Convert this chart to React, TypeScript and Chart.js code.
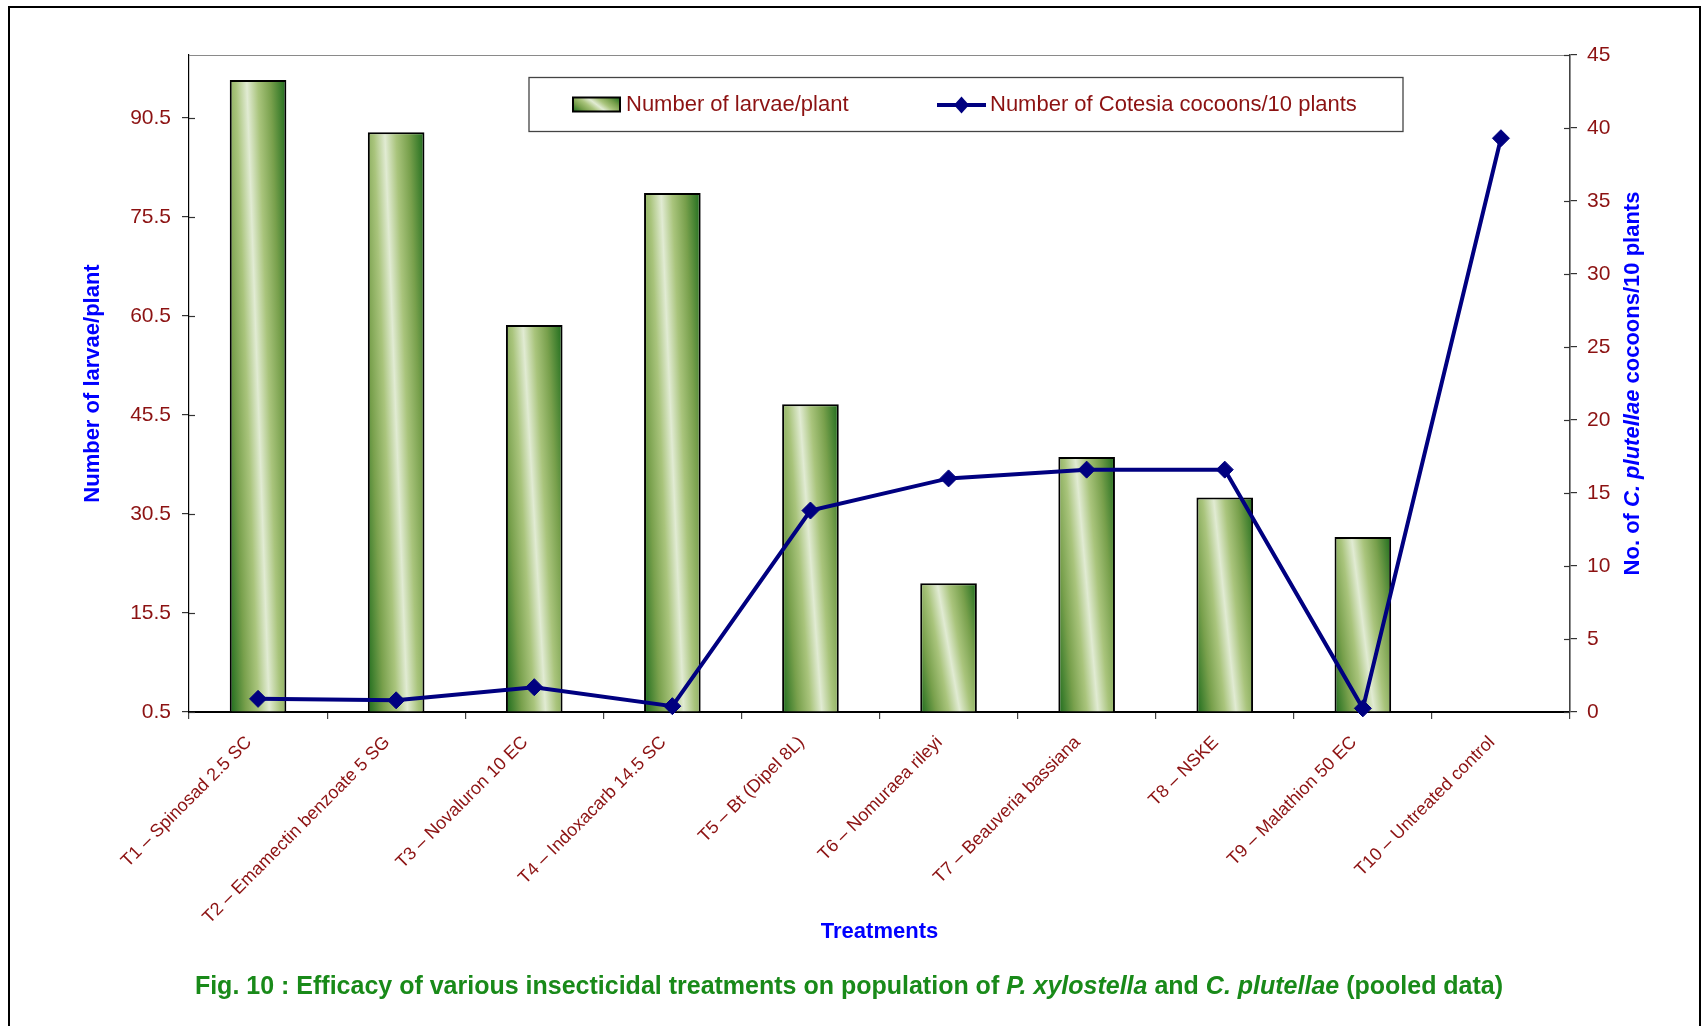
import React, { useEffect, useRef } from "react";
import { Chart, registerables } from "chart.js";

Chart.register(...registerables);

// ---------------- data ----------------
const categories = [
  "T1 – Spinosad 2.5 SC",
  "T2 – Emamectin benzoate 5 SG",
  "T3 – Novaluron 10 EC",
  "T4 – Indoxacarb 14.5 SC",
  "T5 – Bt (Dipel 8L)",
  "T6 – Nomuraea rileyi",
  "T7 – Beauveria bassiana",
  "T8 – NSKE",
  "T9 – Malathion 50 EC",
  "T10 – Untreated control",
];
const larvaePerPlant = [96.2, 88.3, 59.1, 79.1, 47.1, 20.0, 39.1, 33.0, 27.0, null];
const cocoonsPer10Plants = [0.9, 0.8, 1.7, 0.4, 13.8, 16.0, 16.6, 16.6, 0.25, 39.3];
const leftTicks = [0.5, 15.5, 30.5, 45.5, 60.5, 75.5, 90.5];
const rightTicks = [0, 5, 10, 15, 20, 25, 30, 35, 40, 45];

const legendBarLabel = "Number of larvae/plant";
const legendLineLabel = "Number of Cotesia cocoons/10 plants";
const xTitle = "Treatments";
const leftTitle = "Number of larvae/plant";
const rightTitleParts = [
  { text: "No. of ", italic: false },
  { text: "C. plutellae", italic: true },
  { text: " cocoons/10 plants", italic: false },
];

// ---------------- styles ----------------
const FONT = '"Liberation Sans", Arial, Helvetica, sans-serif';
const TICK_RED = "#8C1212";
const TITLE_BLUE = "#0000FF";
const NAVY = "#000080";
const CAPTION_GREEN = "#198A19";

function barGradient(ctx: CanvasRenderingContext2D, left: number, top: number, right: number, bottom: number) {
  const w = Math.max(right - left, 1);
  const h = Math.max(bottom - top, 1);
  const cx = (left + right) / 2;
  const cy = (top + bottom) / 2;
  const nx = h;
  const ny = -0.4 * w;
  const n2 = nx * nx + ny * ny;
  const k = (0.7 * w * h) / n2;
  const g = ctx.createLinearGradient(cx - nx * k, cy - ny * k, cx + nx * k, cy + ny * k);
  g.addColorStop(0, "#1c6b1c");
  g.addColorStop(0.2, "#78a04c");
  g.addColorStop(0.36, "#a9c47c");
  g.addColorStop(0.5, "#e1ebd3");
  g.addColorStop(0.64, "#a9c47c");
  g.addColorStop(0.8, "#78a04c");
  g.addColorStop(1, "#1c6b1c");
  return g;
}

const gradientPlugin = {
  id: "barGradient",
  beforeDatasetsDraw(chart: any) {
    const ctx = chart.ctx;
    chart.data.datasets.forEach((ds: any, i: number) => {
      if (ds.type !== "bar") return;
      const meta = chart.getDatasetMeta(i);
      meta.data.forEach((el: any) => {
        const p = el.getProps(["x", "y", "base", "width"], true);
        if (p.y == null || isNaN(p.y)) return;
        const top = Math.min(p.y, p.base);
        const bottom = Math.max(p.y, p.base);
        el.options.backgroundColor = barGradient(ctx, p.x - p.width / 2, top, p.x + p.width / 2, bottom);
      });
    });
  },
};

const framePlugin = {
  id: "frame",
  afterDatasetsDraw(chart: any) {
    const { ctx, chartArea: ca } = chart;
    ctx.save();
    ctx.strokeStyle = "#8a8a8a";
    ctx.lineWidth = 1.2;
    ctx.beginPath();
    ctx.moveTo(ca.left, ca.top + 0.5);
    ctx.lineTo(ca.right, ca.top + 0.5);
    ctx.stroke();
    ctx.strokeStyle = "#333";
    ctx.lineWidth = 1.2;
    const yl = chart.scales.y;
    leftTicks.forEach((v) => {
      const py = Math.round(yl.getPixelForValue(v)) + 0.5;
      ctx.beginPath();
      ctx.moveTo(ca.left, py);
      ctx.lineTo(ca.left + 6, py);
      ctx.stroke();
    });
    const yr = chart.scales.y1;
    rightTicks.forEach((v) => {
      const py = Math.round(yr.getPixelForValue(v)) + 0.5;
      ctx.beginPath();
      ctx.moveTo(ca.right - 6, py);
      ctx.lineTo(ca.right, py);
      ctx.stroke();
    });
    ctx.restore();
  },
};

const legendPlugin = {
  id: "customLegend",
  afterDraw(chart: any) {
    const { ctx, chartArea: ca } = chart;
    const bx = ca.left + 340;
    const by = ca.top + 22.5;
    const bw = 874;
    const bh = 54;
    const cy = by + 27.5;
    ctx.save();
    ctx.fillStyle = "#ffffff";
    ctx.fillRect(bx, by, bw, bh);
    ctx.strokeStyle = "#444";
    ctx.lineWidth = 1.3;
    ctx.strokeRect(bx, by, bw, bh);
    const sx = bx + 44, sy = cy - 7.5, sw = 47, sh = 14;
    ctx.fillStyle = barGradient(ctx, sx, sy, sx + sw, sy + sh);
    ctx.fillRect(sx, sy, sw, sh);
    ctx.strokeStyle = "#000";
    ctx.lineWidth = 2;
    ctx.strokeRect(sx, sy, sw, sh);
    ctx.font = `22px ${FONT}`;
    ctx.fillStyle = TICK_RED;
    ctx.textBaseline = "middle";
    ctx.textAlign = "left";
    ctx.fillText(legendBarLabel, sx + sw + 6, cy);
    const lx = bx + 408;
    ctx.strokeStyle = NAVY;
    ctx.lineWidth = 4;
    ctx.beginPath();
    ctx.moveTo(lx, cy);
    ctx.lineTo(lx + 49, cy);
    ctx.stroke();
    const dx = lx + 24.5;
    ctx.fillStyle = NAVY;
    ctx.beginPath();
    ctx.moveTo(dx, cy - 8.5);
    ctx.lineTo(dx + 7.5, cy);
    ctx.lineTo(dx, cy + 8.5);
    ctx.lineTo(dx - 7.5, cy);
    ctx.closePath();
    ctx.fill();
    ctx.fillStyle = TICK_RED;
    ctx.fillText(legendLineLabel, lx + 53, cy);
    ctx.restore();
  },
};

const rightTitlePlugin = {
  id: "rightTitle",
  afterDraw(chart: any) {
    const { ctx, chartArea: ca } = chart;
    ctx.save();
    const cx = ca.right + 63;
    const cy = (ca.top + ca.bottom) / 2;
    ctx.translate(cx, cy);
    ctx.rotate(-Math.PI / 2);
    ctx.textBaseline = "middle";
    ctx.textAlign = "left";
    ctx.fillStyle = TITLE_BLUE;
    let total = 0;
    const widths = rightTitleParts.map((p) => {
      ctx.font = `${p.italic ? "italic " : ""}bold 22px ${FONT}`;
      const w = ctx.measureText(p.text).width;
      total += w;
      return w;
    });
    let x = -total / 2;
    rightTitleParts.forEach((p, i) => {
      ctx.font = `${p.italic ? "italic " : ""}bold 22px ${FONT}`;
      ctx.fillText(p.text, x, 0);
      x += widths[i];
    });
    ctx.restore();
  },
};

export default function App() {
  const canvasRef = useRef<HTMLCanvasElement | null>(null);

  useEffect(() => {
    document.body.style.overflow = "hidden";
    const canvas = canvasRef.current;
    if (!canvas) return;
    const chart = new Chart(canvas, {
      type: "bar",
      data: {
        labels: categories,
        datasets: [
          {
            type: "line",
            label: legendLineLabel,
            data: cocoonsPer10Plants,
            yAxisID: "y1",
            borderColor: NAVY,
            backgroundColor: NAVY,
            borderWidth: 4,
            pointStyle: "rectRot",
            pointRadius: 8.5,
            pointBorderWidth: 1,
            pointBackgroundColor: NAVY,
            pointBorderColor: NAVY,
            tension: 0,
            clip: false,
            order: 0,
          } as any,
          {
            type: "bar",
            label: legendBarLabel,
            data: larvaePerPlant,
            yAxisID: "y",
            base: 0.5,
            backgroundColor: () => "#a9c47c",
            borderColor: "#000000",
            borderWidth: 2,
            barPercentage: 0.41,
            categoryPercentage: 1.0,
            order: 1,
          } as any,
        ],
      },
      options: {
        responsive: false,
        animation: false,
        devicePixelRatio: 1,
        layout: { padding: { top: 55, left: 0, right: 0, bottom: 0 } },
        plugins: {
          legend: { display: false },
          tooltip: { enabled: false },
          title: { display: false },
        },
        scales: {
          x: {
            type: "category",
            offset: true,
            grid: {
              display: true,
              offset: true,
              drawOnChartArea: false,
              drawTicks: true,
              tickLength: 7,
              color: "#444",
              lineWidth: 1.2,
            },
            border: { display: true, color: "#000", width: 2 },
            ticks: {
              color: TICK_RED,
              font: { family: FONT, size: 18 },
              minRotation: 45,
              maxRotation: 45,
              autoSkip: false,
              padding: 13,
              labelOffset: -9,
            },
            title: {
              display: true,
              text: xTitle,
              color: TITLE_BLUE,
              font: { family: FONT, size: 22, weight: "bold" },
              padding: { top: 0, bottom: 81 },
            },
            afterFit: (s: any) => {
              s.height = 314;
            },
          },
          y: {
            type: "linear",
            position: "left",
            min: 0.5,
            max: 100,
            afterBuildTicks: (s: any) => {
              s.ticks = leftTicks.map((v) => ({ value: v }));
            },
            grid: {
              drawOnChartArea: false,
              drawTicks: true,
              tickLength: 7,
              color: "#333",
              lineWidth: 1.2,
            },
            border: { display: true, color: "#000", width: 1.2 },
            ticks: {
              color: TICK_RED,
              font: { family: FONT, size: 21 },
              padding: 11,
              callback: (v: any) => String(v),
            },
            title: {
              display: true,
              text: leftTitle,
              color: TITLE_BLUE,
              font: { family: FONT, size: 22, weight: "bold" },
              padding: { top: 80, bottom: 0 },
            },
            afterFit: (s: any) => {
              s.width = 189;
            },
          },
          y1: {
            type: "linear",
            position: "right",
            min: 0,
            max: 45,
            afterBuildTicks: (s: any) => {
              s.ticks = rightTicks.map((v) => ({ value: v }));
            },
            grid: {
              drawOnChartArea: false,
              drawTicks: true,
              tickLength: 7,
              color: "#333",
              lineWidth: 1.2,
            },
            border: { display: true, color: "#444", width: 1.6 },
            ticks: {
              color: TICK_RED,
              font: { family: FONT, size: 21 },
              padding: 10,
              callback: (v: any) => String(v),
            },
            title: { display: false },
            afterFit: (s: any) => {
              s.width = 134;
            },
          },
        },
      },
      plugins: [gradientPlugin, framePlugin, legendPlugin, rightTitlePlugin],
    });
    return () => {
      chart.destroy();
    };
  }, []);

  return (
    <div style={{ position: "fixed", left: 0, top: 0, width: 1704, height: 1026, overflow: "hidden", background: "#fff" }}>
      <div
        style={{
          position: "absolute",
          left: 8,
          top: 6,
          width: 1689,
          height: 1100,
          border: "2px solid #000",
          boxSizing: "content-box",
        }}
      />
      <canvas
        ref={canvasRef}
        width={1704}
        height={1026}
        style={{ position: "absolute", left: 0, top: 0, width: 1704, height: 1026 }}
      />
      <div
        style={{
          position: "absolute",
          left: 0,
          top: 970,
          width: 1698,
          textAlign: "center",
          whiteSpace: "nowrap",
          fontFamily: FONT,
          fontWeight: "bold",
          fontSize: 25,
          lineHeight: "30px",
          color: CAPTION_GREEN,
        }}
      >
        Fig. 10 : Efficacy of various insecticidal treatments on population of <i>P. xylostella</i> and{" "}
        <i>C. plutellae</i> (pooled data)
      </div>
    </div>
  );
}
